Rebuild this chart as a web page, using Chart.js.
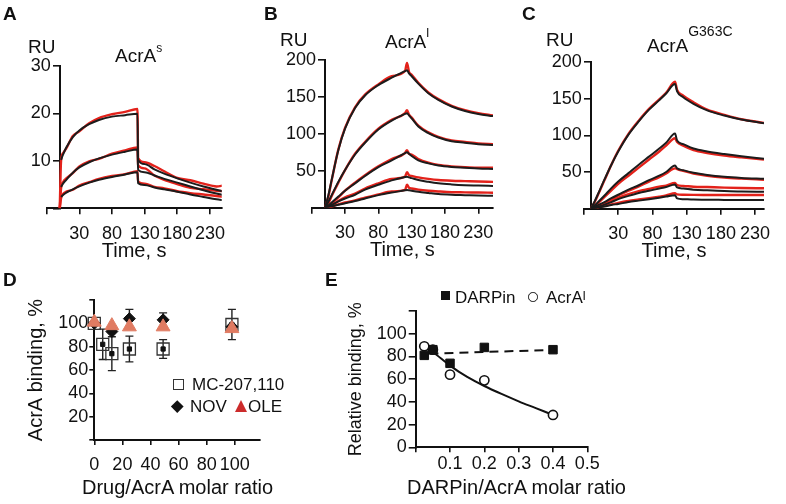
<!DOCTYPE html>
<html>
<head>
<meta charset="utf-8">
<title>AcrA binding</title>
<script src="https://cdn.jsdelivr.net/npm/chart.js@4.4.1/dist/chart.umd.min.js"></script>
<style>
  html, body { margin: 0; padding: 0; background: #fff; }
  #fig { position: relative; width: 786px; height: 504px; overflow: hidden;
         font-family: "Liberation Sans", Arial, sans-serif; color: #111; }
  #fig canvas { position: absolute; left: 0; top: 0; }
  .txt { position: absolute; white-space: nowrap; line-height: 1; }
  .panel { font-weight: bold; font-size: 19px; }
  .lab { font-size: 19px; }
  .leg { font-size: 17px; }
  .sym { position: absolute; box-sizing: border-box; }
</style>
</head>
<body>
<div id="fig">
  <canvas id="chartA" width="786" height="504"></canvas>
  <canvas id="chartB" width="786" height="504"></canvas>
  <canvas id="chartC" width="786" height="504"></canvas>
  <canvas id="chartD" width="786" height="504"></canvas>
  <canvas id="chartE" width="786" height="504"></canvas>

  <div class="txt panel" style="left:3px;top:4px">A</div>
  <div class="txt panel" style="left:264px;top:4px">B</div>
  <div class="txt panel" style="left:522px;top:4px">C</div>
  <div class="txt panel" style="left:3px;top:270px">D</div>
  <div class="txt panel" style="left:325px;top:270px">E</div>

  <div class="txt lab" style="left:28px;top:37px">RU</div>
  <div class="txt lab" style="left:115px;top:46px">AcrA<span style="font-size:12px;position:relative;top:-10px">s</span></div>
  <div class="txt lab" style="left:280px;top:30px">RU</div>
  <div class="txt lab" style="left:385px;top:32px">AcrA<span style="font-size:13px;position:relative;top:-11px">l</span></div>
  <div class="txt lab" style="left:546px;top:30px">RU</div>
  <div class="txt lab" style="left:647px;top:36px">AcrA<span style="font-size:14px;position:relative;top:-16px">G363C</span></div>

  <!-- legend D -->
  <div class="sym" style="left:173px;top:379px;width:11px;height:11px;border:1.3px solid #333"></div>
  <div class="txt leg" style="left:192px;top:376px">MC-207,110</div>
  <div class="sym" style="left:173px;top:402px;width:8.5px;height:8.5px;background:#111;transform:rotate(45deg)"></div>
  <div class="txt leg" style="left:190px;top:398px">NOV</div>
  <div class="sym" style="left:235px;top:400px;width:0;height:0;border-left:6.5px solid transparent;border-right:6.5px solid transparent;border-bottom:12px solid #cc2b2b"></div>
  <div class="txt leg" style="left:248px;top:398px">OLE</div>
  <div class="txt" style="left:82px;top:477px;font-size:20px">Drug/AcrA molar ratio</div>

  <!-- legend E -->
  <div class="sym" style="left:441px;top:291px;width:9px;height:9px;background:#111"></div>
  <div class="txt leg" style="left:455px;top:289px">DARPin</div>
  <div class="sym" style="left:528px;top:292px;width:9.5px;height:9.5px;border:1.5px solid #111;border-radius:50%"></div>
  <div class="txt leg" style="left:546px;top:289px">AcrA<span style="font-size:13px;position:relative;top:-3px">l</span></div>
  <div class="txt" style="left:407px;top:477px;font-size:20px">DARPin/AcrA molar ratio</div>
</div>

<script>
// ---- panel A: AcrA(s) sensorgrams (RU vs time, s) ----
const timeA = [0, 2, 5, 10, 20, 30, 45, 60, 80, 100, 119, 120, 130, 145, 160, 180, 200, 220, 240, 251];
const fitA1 = [null, 10.2, 11.3, 12.8, 15.0, 16.4, 17.7, 18.6, 19.3, 19.6, 19.9, 10.2, 9.3, 8.2, 7.3, 6.3, 5.4, 4.6, 3.9, 3.5];
const fitA2 = [null, 4.5, 5.2, 6.0, 7.5, 8.6, 9.7, 10.5, 11.3, 11.9, 12.4, 8.1, 7.6, 6.9, 6.2, 5.4, 4.6, 3.8, 3.1, 2.8];
const fitA3 = [null, 2.4, 2.8, 3.3, 4.0, 4.6, 5.4, 6.0, 6.6, 7.1, 7.6, 5.3, 4.9, 4.4, 4.0, 3.5, 2.9, 2.4, 1.9, 1.7];
const obsA1 = [0, 10.0, 11.6, 12.6, 15.2, 16.2, 17.9, 19.0, 19.8, 20.3, 20.9, 10.6, 9.7, 8.9, 7.8, 6.4, 5.9, 5.2, 4.6, 4.8];
const obsA2 = [0, 4.2, 5.5, 6.3, 7.4, 8.8, 9.9, 10.4, 11.5, 12.2, 12.8, 9.0, 8.4, 6.9, 6.0, 5.1, 4.3, 4.0, 3.7, 3.6];
const obsA3 = [0, 2.1, 3.0, 3.5, 3.9, 4.8, 5.5, 6.2, 6.8, 7.2, 7.8, 5.6, 5.2, 4.5, 4.2, 3.6, 3.2, 2.9, 2.6, 2.4];

// ---- panel B: AcrA(l) ----
const timeB = [0, 5, 10, 20, 30, 45, 60, 80, 100, 120, 123, 126, 130, 140, 155, 170, 190, 210, 230, 252];
const fitB1 = [0, 17, 38, 78, 107, 135, 152, 166, 176, 185, 186, 182, 178, 168, 155, 146, 137, 131, 127, 124];
const fitB2 = [0, 8, 17, 35, 51, 72, 88, 106, 118, 127, 128, 125, 121, 110, 101, 95, 90, 88, 86, 85];
const fitB3 = [0, 3, 7, 15, 23, 33, 43, 55, 64, 74, 75, 73, 70, 64, 60, 57, 55, 54, 53, 52.5];
const fitB4 = [0, 2, 4, 8.5, 12.5, 17.5, 24.5, 31, 37, 41.5, 42, 41, 40, 37.5, 35, 33, 31.5, 30.5, 30, 29.4];
const fitB5 = [0, 1, 2, 4, 6, 9, 12.5, 17, 20.5, 23.5, 24, 23.6, 23, 21.6, 20, 18.5, 17.5, 17, 16.5, 16.2];
const obsB1 = [0, 15, 37, 79, 108, 136, 153, 167, 178, 185, 196, 184, 180, 169, 156, 147, 138, 132, 128, 125];
const obsB2 = [0, 6, 16, 34, 51, 73, 89, 107, 119, 128, 132, 126, 122, 111, 102, 96, 91, 89, 87, 86];
const obsB3 = [0, 2, 6, 14, 23, 34, 44, 56, 66, 74, 78, 73, 72, 66, 61, 58, 56, 55, 54, 54];
const obsB4 = [0, 0, 3, 9, 14, 19, 26, 33, 39, 42, 48, 44, 43, 41, 39, 37.5, 36.5, 36, 35.5, 35];
const obsB5 = [0, 0, 1.5, 4.5, 7, 10, 13.5, 18, 22, 24, 31, 27, 26, 24.5, 23, 22, 21, 20.8, 20.5, 20.3];

// ---- panel C: AcrA G363C ----
const timeC = [-10, -5, 0, 10, 20, 30, 45, 60, 75, 90, 100, 113, 116, 125, 140, 160, 185, 210, 243];
const fitC1 = [0, 9, 19, 40, 60, 78, 101, 119, 135, 148, 157, 170, 160, 152, 143, 134, 127, 121.5, 116.5];
const fitC2 = [0, 4, 8.5, 18, 28, 37, 48.5, 60, 71, 82, 90, 102.5, 93, 88, 82, 78, 74.5, 71.5, 68];
const fitC3 = [0, 2, 4.5, 9, 14.5, 19, 26, 32, 39, 45, 50, 59, 55, 52.5, 49, 46, 43.5, 42, 40.7];
const fitC4 = [0, 1, 2.5, 5.5, 9, 13, 17.5, 21.5, 24.5, 27.5, 29.5, 33, 29, 27.5, 26, 25, 24, 23.5, 23];
const fitC5 = [0, 0.5, 1.5, 3, 5, 6.5, 9, 11, 13, 15, 16.5, 18.5, 14, 13, 12.5, 12.2, 12, 11.8, 11.7];
const obsC1 = [0, 8, 18, 39, 60, 79, 102, 120, 136, 149, 158, 173, 162, 154, 145, 135, 128, 122, 117];
const obsC2 = [0, 3, 7, 16, 25, 34, 45, 56, 67, 78, 86, 96, 91, 86, 80, 76, 72.5, 70, 67];
const obsC3 = [0, 1, 3, 8, 13, 18, 24.5, 30.5, 37, 43, 48, 55, 54, 51.5, 48, 45, 42.5, 41, 39.5];
const obsC4 = [0, 1.5, 3.5, 7, 11, 15, 20, 24, 27, 30, 31.5, 35, 32, 31, 30, 29.5, 28.8, 28.3, 27.8];
const obsC5 = [0, 0.5, 1.5, 4, 6, 8, 10.5, 12.5, 14.5, 16.5, 18, 21, 19.5, 19, 18.8, 18.7, 18.6, 18.6, 18.6];

const timeTicks = [-20, 30, 80, 130, 180, 230];

// ---- panel D: drug / AcrA molar ratio vs AcrA binding, % ----
const mcX = [0, 6, 12.5, 25, 49, 98];
const mcY = [100, 82, 74, 78, 78, 99];
const mcErr = [0, 13, 14.5, 11, 8, 13];
const novX = [0, 12.5, 25, 49, 98];
const novY = [100, 93, 104, 103, 97];
const novErr = [0, 0, 8, 6, 0];
const oleX = [0, 12.5, 25, 49, 98];
const oleY = [101, 98, 97, 97, 95.5];
const ratioTicksD = [0, 20, 40, 60, 80, 100];

// ---- panel E: DARPin / AcrA molar ratio vs relative binding, % ----
const ratioE = [0.025, 0.05, 0.1, 0.2, 0.4];
const darpinY = [81, 86, 74, 88, 86];
const acraY = [89, 86, 64, 59, 28.5];
const darpinFitX = [0.04, 0.4];
const darpinFitY = [82.5, 85.8];
const acraFitX = [0.025, 0.05, 0.1, 0.15, 0.2, 0.25, 0.3, 0.35, 0.4];
const acraFitY = [89, 84, 72, 62, 54, 47, 40.5, 34.5, 28.5];
const ratioTicksE = [0, 0.1, 0.2, 0.3, 0.4, 0.5];

const W = 786, H = 504;
const FIT_COLOR = '#1c1c1c';
const OBS_COLOR = '#e3221b';
const OLE_COLOR = '#e07b62';
const INK = '#111';
const GAP = '\u2002'; // keeps y labels clear of an axis placed at a data value

Chart.defaults.font.family = '"Liberation Sans", Arial, sans-serif';
Chart.defaults.font.size = 18;
Chart.defaults.color = INK;
Chart.defaults.animation = false;

function pts(xs, ys) {
  return xs.map((x, i) => ({ x: x, y: ys[i] }));
}

function axisGrid(len) {
  return { display: true, drawOnChartArea: false, drawTicks: true, tickLength: len, color: INK, lineWidth: 1.6 };
}
const axisBorder = { display: true, color: INK, width: 2 };

// error bars drawn under the markers, through the chart's own scales
const errorBars = {
  id: 'errorBars',
  beforeDatasetsDraw(chart) {
    const { ctx, scales: { x, y } } = chart;
    ctx.save();
    ctx.strokeStyle = '#222';
    ctx.lineWidth = 1.4;
    chart.data.datasets.forEach((ds) => {
      if (!ds.errors) return;
      ds.data.forEach((p, j) => {
        const e = ds.errors[j];
        if (!e) return;
        const px = x.getPixelForValue(p.x);
        const top = y.getPixelForValue(p.y + e);
        const bot = y.getPixelForValue(p.y - e);
        ctx.beginPath();
        ctx.moveTo(px, top); ctx.lineTo(px, bot);
        ctx.moveTo(px - 4, top); ctx.lineTo(px + 4, top);
        ctx.moveTo(px - 4, bot); ctx.lineTo(px + 4, bot);
        ctx.stroke();
      });
    });
    ctx.restore();
  }
};

/**
 * One sensorgram panel: black fitted curves over red measured traces.
 */
function sprChart(id, cfg) {
  const xAxisH = 55;
  const datasets = [];
  cfg.fits.forEach((ys) => datasets.push({
    data: pts(cfg.times, ys), borderColor: FIT_COLOR, borderWidth: 2, order: 0
  }));
  cfg.obs.forEach((ys) => datasets.push({
    data: pts(cfg.times, ys), borderColor: OBS_COLOR, borderWidth: 2.4, order: 1
  }));

  return new Chart(document.getElementById(id), {
    type: 'line',
    data: { datasets: datasets },
    options: {
      responsive: false,
      animation: false,
      layout: {
        padding: { left: cfg.area.l, right: W - cfg.area.r, top: cfg.area.t, bottom: H - cfg.area.b - xAxisH }
      },
      elements: {
        point: { radius: 0 },
        line: { cubicInterpolationMode: 'monotone', fill: false }
      },
      plugins: { legend: { display: false }, tooltip: { enabled: false } },
      scales: {
        x: {
          type: 'linear', position: 'bottom', min: cfg.xMin, max: cfg.xMax,
          afterBuildTicks: (s) => { s.ticks = timeTicks.map((v) => ({ value: v })); },
          afterFit: (s) => { s.height = xAxisH; },
          ticks: { autoSkip: false, maxRotation: 0, padding: 9, callback: (v) => (v < 0 ? '' : String(v)) },
          grid: axisGrid(6), border: axisBorder,
          title: { display: true, text: 'Time, s', font: { size: 20 }, padding: 0 }
        },
        y: {
          type: 'linear', axis: 'y', position: { x: cfg.yAt }, min: 0, max: cfg.yMax,
          ticks: { stepSize: cfg.yStep, autoSkip: false, callback: (v) => (v === 0 ? '' : v + GAP) },
          grid: axisGrid(6), border: axisBorder
        }
      }
    }
  });
}

sprChart('chartA', {
  area: { l: 46.7, r: 221.7, t: 65.8, b: 208.3 }, xMin: -20, xMax: 248, yAt: 0,
  yMax: 30, yStep: 10, times: timeA,
  fits: [fitA1, fitA2, fitA3], obs: [obsA1, obsA2, obsA3]
});
sprChart('chartB', {
  area: { l: 311.7, r: 493, t: 60, b: 207.7 }, xMin: -20, xMax: 252, yAt: 0,
  yMax: 200, yStep: 50, times: timeB,
  fits: [fitB1, fitB2, fitB3, fitB4, fitB5], obs: [obsB1, obsB2, obsB3, obsB4, obsB5]
});
sprChart('chartC', {
  area: { l: 584, r: 764, t: 62, b: 208.7 }, xMin: -20, xMax: 243, yAt: -10,
  yMax: 200, yStep: 50, times: timeC,
  fits: [fitC1, fitC2, fitC3, fitC4, fitC5], obs: [obsC1, obsC2, obsC3, obsC4, obsC5]
});

// ---- D ----
new Chart(document.getElementById('chartD'), {
  type: 'scatter',
  data: {
    datasets: [
      { label: 'OLE', data: pts(oleX, oleY), pointStyle: 'triangle', pointRadius: 8,
        backgroundColor: OLE_COLOR, borderColor: OLE_COLOR, borderWidth: 1, order: 0, clip: false },
      { label: 'NOV', data: pts(novX, novY), errors: novErr, pointStyle: 'rectRot', pointRadius: 6,
        backgroundColor: INK, borderColor: INK, borderWidth: 1, order: 1, clip: false },
      { label: 'MC-207,110 mean', data: pts(mcX, mcY), pointStyle: 'rect', pointRadius: 3,
        backgroundColor: INK, borderColor: INK, borderWidth: 1, order: 2, clip: false },
      { label: 'MC-207,110', data: pts(mcX, mcY), errors: mcErr, pointStyle: 'rect', pointRadius: 8.5,
        backgroundColor: 'rgba(0,0,0,0)', borderColor: '#333', borderWidth: 1.3, order: 3, clip: false }
    ]
  },
  options: {
    responsive: false,
    animation: false,
    layout: { padding: { left: 24, right: W - 260, top: 300, bottom: 4 } },
    plugins: { legend: { display: false }, tooltip: { enabled: false } },
    scales: {
      x: {
        type: 'linear', min: 0, max: 118,
        afterBuildTicks: (s) => { s.ticks = ratioTicksD.map((v) => ({ value: v })); },
        afterFit: (s) => { s.height = 60; },
        ticks: { autoSkip: false, maxRotation: 0, padding: 9 },
        grid: axisGrid(5), border: axisBorder
      },
      y: {
        type: 'linear', min: 0, max: 120,
        afterFit: (s) => { s.width = 70.3; },
        ticks: { stepSize: 20, autoSkip: false, padding: 1, callback: (v) => (v === 0 || v === 120 ? '' : String(v)) },
        grid: axisGrid(5), border: axisBorder,
        title: { display: true, text: 'AcrA binding, %', font: { size: 20 }, padding: 0 }
      }
    }
  },
  plugins: [errorBars]
});

// ---- E ----
new Chart(document.getElementById('chartE'), {
  type: 'scatter',
  data: {
    datasets: [
      { label: 'DARPin', data: pts(ratioE, darpinY), pointStyle: 'rect', pointRadius: 6,
        backgroundColor: INK, borderColor: INK, borderWidth: 1, order: 0, clip: false },
      { label: 'AcrA l', data: pts(ratioE, acraY), pointStyle: 'circle', pointRadius: 4.6,
        backgroundColor: '#fff', borderColor: INK, borderWidth: 1.6, order: 1, clip: false },
      { label: 'DARPin fit', data: pts(darpinFitX, darpinFitY), showLine: true, pointRadius: 0,
        borderColor: INK, borderWidth: 2, borderDash: [9, 6], order: 2 },
      { label: 'AcrA l fit', data: pts(acraFitX, acraFitY), showLine: true, pointRadius: 0,
        borderColor: INK, borderWidth: 2, cubicInterpolationMode: 'monotone', order: 3 }
    ]
  },
  options: {
    responsive: false,
    animation: false,
    layout: { padding: { left: 345, right: W - 587.3, top: 311.1, bottom: 504 - 447.3 - 40 } },
    plugins: { legend: { display: false }, tooltip: { enabled: false } },
    scales: {
      x: {
        type: 'linear', min: 0, max: 0.5,
        afterBuildTicks: (s) => { s.ticks = ratioTicksE.map((v) => ({ value: v })); },
        afterFit: (s) => { s.height = 40; },
        ticks: { autoSkip: false, maxRotation: 0, padding: 1, callback: (v) => (v === 0 ? '' : v.toFixed(1)) },
        grid: axisGrid(5), border: axisBorder
      },
      y: {
        type: 'linear', min: 0, max: 120,
        afterFit: (s) => { s.width = 70.7; },
        ticks: { stepSize: 20, autoSkip: false, padding: 2, callback: (v) => (v === 120 ? '' : String(v)) },
        grid: axisGrid(7), border: axisBorder,
        title: { display: true, text: 'Relative binding, %', font: { size: 18 }, padding: 0 }
      }
    }
  }
});
</script>
</body>
</html>
